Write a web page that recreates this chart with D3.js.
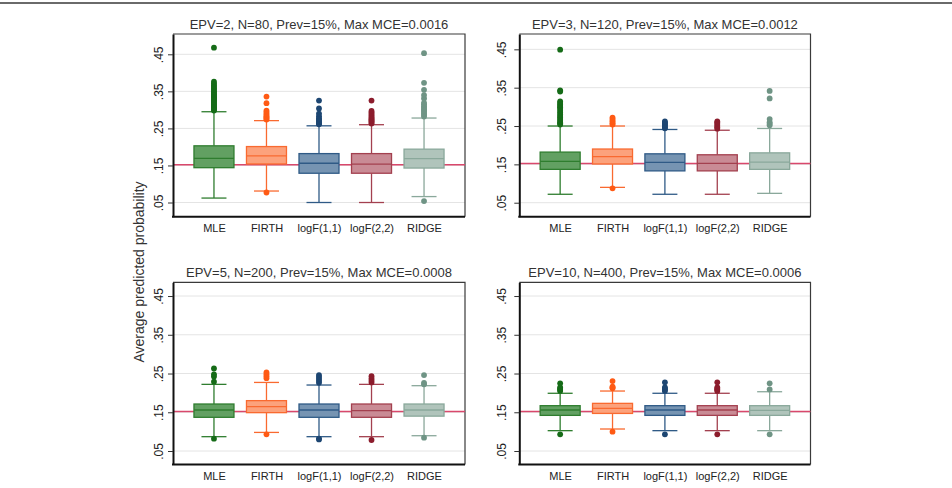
<!DOCTYPE html>
<html>
<head>
<meta charset="utf-8">
<script src="https://cdn.jsdelivr.net/npm/d3@7"></script>
<style>
  html, body { margin: 0; padding: 0; background: #fff; }
  svg { display: block; font-family: "Liberation Sans", Arial, sans-serif; }
</style>
</head>
<body>
<svg id="chart" width="952" height="488"></svg>
<script>
// ---------------- DATA ----------------
const categories = ["MLE", "FIRTH", "logF(1,1)", "logF(2,2)", "RIDGE"];
const panelTitles = [
  "EPV=2, N=80, Prev=15%, Max MCE=0.0016",
  "EPV=3, N=120, Prev=15%, Max MCE=0.0012",
  "EPV=5, N=200, Prev=15%, Max MCE=0.0008",
  "EPV=10, N=400, Prev=15%, Max MCE=0.0006"
];
const yTicks = [0.05, 0.15, 0.25, 0.35, 0.45];
const yTitle = "Average predicted probability";
const truePrevalence = 0.152;

// Panel 1: EPV=2
const p1Low  = [0.062, 0.081, 0.050, 0.050, 0.066];
const p1Q1   = [0.144, 0.154, 0.129, 0.129, 0.143];
const p1Med  = [0.169, 0.176, 0.156, 0.1535, 0.1686];
const p1Q3   = [0.203, 0.201, 0.182, 0.182, 0.194];
const p1High = [0.295, 0.271, 0.257, 0.260, 0.278];
const p1Out  = [
  [0.298,0.301,0.304,0.307,0.310,0.313,0.316,0.319,0.322,0.325,0.328,0.331,0.334,0.337,0.340,0.343,0.346,0.350,0.354,0.358,0.362,0.366,0.371,0.376,0.468],
  [0.274,0.277,0.280,0.283,0.286,0.290,0.294,0.298,0.318,0.336,0.077],
  [0.261,0.264,0.267,0.270,0.274,0.277,0.283,0.290,0.304,0.325],
  [0.263,0.266,0.269,0.272,0.275,0.278,0.281,0.285,0.289,0.293,0.297,0.325],
  [0.282,0.286,0.290,0.294,0.298,0.302,0.306,0.310,0.315,0.319,0.331,0.340,0.354,0.373,0.453,0.054]
];

// Panel 2: EPV=3
const p2Low  = [0.072, 0.090, 0.072, 0.072, 0.0744];
const p2Q1   = [0.137, 0.151, 0.133, 0.133, 0.137];
const p2Med  = [0.158, 0.170, 0.155, 0.1525, 0.156];
const p2Q3   = [0.182, 0.190, 0.1775, 0.175, 0.180];
const p2High = [0.250, 0.250, 0.241, 0.239, 0.2436];
const p2Out  = [
  [0.254,0.257,0.260,0.264,0.268,0.272,0.276,0.280,0.285,0.290,0.295,0.299,0.302,0.306,0.310,0.314,0.340,0.343,0.449],
  [0.254,0.257,0.261,0.264,0.268,0.272,0.0875],
  [0.244,0.247,0.250,0.253,0.256,0.259,0.262],
  [0.243,0.247,0.251,0.255,0.259,0.262],
  [0.252,0.256,0.260,0.268,0.322,0.3415]
];

// Panel 3: EPV=5
const p3Low  = [0.087, 0.098, 0.087, 0.087, 0.0895];
const p3Q1   = [0.137, 0.149, 0.137, 0.137, 0.140];
const p3Med  = [0.1558, 0.1644, 0.1558, 0.154, 0.1558];
const p3Q3   = [0.1713, 0.180, 0.1713, 0.1713, 0.1713];
const p3High = [0.222, 0.227, 0.2203, 0.222, 0.2186];
const p3Out  = [
  [0.229,0.242,0.248,0.263,0.0818],
  [0.238,0.243,0.248,0.253,0.093],
  [0.226,0.231,0.236,0.241,0.246,0.080,0.082],
  [0.227,0.232,0.237,0.243,0.0784],
  [0.222,0.226,0.246,0.0843]
];

// Panel 4: EPV=10
const p4Low  = [0.1025, 0.1068, 0.1025, 0.1025, 0.1025];
const p4Q1   = [0.142, 0.147, 0.142, 0.142, 0.142];
const p4Med  = [0.1558, 0.160, 0.1558, 0.1558, 0.155];
const p4Q3   = [0.167, 0.173, 0.167, 0.167, 0.167];
const p4High = [0.199, 0.2048, 0.199, 0.199, 0.203];
const p4Out  = [
  [0.205,0.208,0.211,0.214,0.2247,0.093],
  [0.212,0.214,0.216,0.2306,0.0998],
  [0.205,0.208,0.211,0.214,0.2273,0.093],
  [0.205,0.208,0.211,0.214,0.2273,0.093],
  [0.209,0.2247,0.093]
];

// Colours per method
const fillColors    = ["#62a062", "#fca27c", "#7694b2", "#c98b95", "#b0c4bb"];
const strokeColors  = ["#2f7d2f", "#f96a30", "#2f5a86", "#a3404f", "#8aa89b"];
const outlierColors = ["#156b17", "#ff5a14", "#1d4672", "#8c1c2c", "#6f9485"];

// ---------------- LAYOUT ----------------
const panels = [
  { low: p1Low, q1: p1Q1, med: p1Med, q3: p1Q3, high: p1High, out: p1Out,
    left: 173, right: 465, top: 34, bottom: 216.7, yDom: [0.0117, 0.5048], titleY: 24, tickX: -14 },
  { low: p2Low, q1: p2Q1, med: p2Med, q3: p2Q3, high: p2High, out: p2Out,
    left: 519.3, right: 810.5, top: 34, bottom: 216.7, yDom: [0.0135, 0.490], titleY: 24, tickX: -18 },
  { low: p3Low, q1: p3Q1, med: p3Med, q3: p3Q3, high: p3High, out: p3Out,
    left: 173, right: 465, top: 282.3, bottom: 464.5, yDom: [0.0152, 0.4854], titleY: 272.7, tickX: -14 },
  { low: p4Low, q1: p4Q1, med: p4Med, q3: p4Q3, high: p4High, out: p4Out,
    left: 519.3, right: 810.5, top: 282.3, bottom: 464.5, yDom: [0.0152, 0.4854], titleY: 272.7, tickX: -18 }
];

const svg = d3.select("#chart");

// top rule of the figure
svg.append("line").attr("x1", 0).attr("x2", 952).attr("y1", 3).attr("y2", 3)
  .attr("stroke", "#6a6a6a").attr("stroke-width", 2);

const fmt = d => d3.format(".2f")(d).replace(/^0/, "");

panels.forEach((p, pi) => {
  const x = d3.scalePoint().domain(categories).range([p.left, p.right]).padding(0.78);
  const y = d3.scaleLinear().domain(p.yDom).range([p.bottom, p.top]);
  const g = svg.append("g");

  // grid lines
  g.selectAll(".grid").data(yTicks).join("line")
    .attr("x1", p.left).attr("x2", p.right)
    .attr("y1", d => y(d)).attr("y2", d => y(d))
    .attr("stroke", "#e4e4e4").attr("stroke-width", 1);

  // frame (top & right)
  g.append("path")
    .attr("d", `M${p.left},${p.top}H${p.right}V${p.bottom}`)
    .attr("fill", "none").attr("stroke", "#3a3a3a").attr("stroke-width", 1.2);

  // prevalence line
  g.append("line").attr("x1", p.left).attr("x2", p.right)
    .attr("y1", y(truePrevalence)).attr("y2", y(truePrevalence))
    .attr("stroke", "#d9486c").attr("stroke-width", 1.5);

  const bw = 40, cw = 25;
  categories.forEach((c, i) => {
    const cx = x(c);
    const bg = g.append("g");
    // whiskers
    bg.append("line").attr("x1", cx).attr("x2", cx)
      .attr("y1", y(p.high[i])).attr("y2", y(p.q3[i]))
      .attr("stroke", strokeColors[i]).attr("stroke-width", 1.3);
    bg.append("line").attr("x1", cx).attr("x2", cx)
      .attr("y1", y(p.q1[i])).attr("y2", y(p.low[i]))
      .attr("stroke", strokeColors[i]).attr("stroke-width", 1.3);
    [p.high[i], p.low[i]].forEach(v => {
      bg.append("line").attr("x1", cx - cw / 2).attr("x2", cx + cw / 2)
        .attr("y1", y(v)).attr("y2", y(v))
        .attr("stroke", strokeColors[i]).attr("stroke-width", 1.3);
    });
    // box
    bg.append("rect").attr("x", cx - bw / 2).attr("width", bw)
      .attr("y", y(p.q3[i])).attr("height", y(p.q1[i]) - y(p.q3[i]))
      .attr("fill", fillColors[i]).attr("stroke", strokeColors[i]).attr("stroke-width", 1.3);
    bg.append("line").attr("x1", cx - bw / 2).attr("x2", cx + bw / 2)
      .attr("y1", y(p.med[i])).attr("y2", y(p.med[i]))
      .attr("stroke", strokeColors[i]).attr("stroke-width", 1.3);
    // outliers
    bg.selectAll("circle").data(p.out[i]).join("circle")
      .attr("cx", cx).attr("cy", d => y(d)).attr("r", 2.9)
      .attr("fill", outlierColors[i]);
  });

  // y axis
  const ya = g.append("g").attr("transform", `translate(${p.left},0)`)
    .call(d3.axisLeft(y).tickValues(yTicks).tickFormat(fmt).tickSize(5).tickSizeOuter(0));
  ya.select(".domain").attr("stroke", "#111").attr("stroke-width", 2);
  ya.selectAll(".tick line").attr("stroke", "#333");
  ya.selectAll(".tick text")
    .attr("x", 0).attr("y", 0).attr("dy", "0.35em")
    .attr("text-anchor", "middle")
    .attr("transform", `translate(${p.tickX},0) rotate(-90)`)
    .attr("font-size", 12).attr("fill", "#222")
    .attr("font-family", "Liberation Sans, Arial, sans-serif");

  // x axis
  const xa = g.append("g").attr("transform", `translate(0,${p.bottom})`)
    .call(d3.axisBottom(x).tickSize(0).tickSizeOuter(0).tickPadding(8));
  xa.select(".domain").attr("stroke", "#111").attr("stroke-width", 2)
    .attr("d", `M${p.left - 1},0H${p.right}`);
  xa.selectAll(".tick text").attr("font-size", 11).attr("fill", "#222")
    .attr("font-family", "Liberation Sans, Arial, sans-serif");

  // title
  svg.append("text").attr("x", (p.left + p.right) / 2).attr("y", p.titleY)
    .attr("dy", "0.35em").attr("text-anchor", "middle")
    .attr("font-size", 13).attr("fill", "#333").text(panelTitles[pi]);
});

// shared y-axis title
svg.append("text")
  .attr("transform", "translate(139,272) rotate(-90)")
  .attr("text-anchor", "middle").attr("dy", "0.35em")
  .attr("font-size", 14).attr("fill", "#333").text(yTitle);
</script>
</body>
</html>
